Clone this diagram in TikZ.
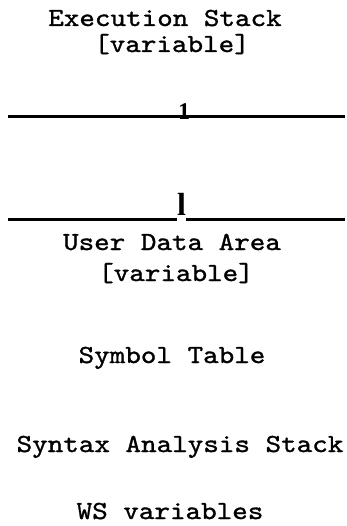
\documentclass[tikz,border=0pt]{standalone}
\usepackage{fontspec}
\usepackage{xcolor}
\usepackage{tikz}
\usetikzlibrary{positioning, calc}
\newfontfamily\memfont[FakeStretch=1.14, FakeBold=1.2]{lmmono10-regular.otf}
\newfontfamily\markfont{Liberation Serif}
\definecolor{mmInk}{RGB}{0, 0, 0}
\tikzset{
    base/.style={
        inner sep=0pt,
        text=mmInk
    },
    region/.style={
        base,
        font=\memfont\fontsize{26}{30}\selectfont,
        anchor=base
    },
    boundmark/.style={
        base,
        anchor=south
    },
    divider/.style={
        line width=3pt,
        draw=mmInk
    }
}

\begin{document}
\begin{tikzpicture}[x=1pt, y=-1pt]
    \useasboundingbox (0,0) rectangle (346,526);

    % Execution stack
    \node[region] (exec) at (165,26) {Execution Stack};
    \node[region] (execvar) at (172,52) {[variable]};

    % Upper boundary
    \coordinate (topL) at (8,117);
    \coordinate (topR) at (345,117);
    \draw[divider] (topL) -- (topR);
    \node[boundmark, font=\markfont\bfseries\fontsize{24}{26}\selectfont] (topmark) at (184,120) {1};

    % Lower boundary
    \coordinate (botL) at (8,220);
    \coordinate (botR) at (345,220);
    \node[boundmark, font=\markfont\bfseries\fontsize{32}{34}\selectfont] (botmark) at (181.5,216) {l};
    \draw[divider] (botL) -- (botL -| botmark.west);
    \draw[divider] (botR -| botmark.east) -- (botR);

    % User data area
    \node[region] (user) at (172,250) {User Data Area};
    \node[region] (uservar) at (176,281) {[variable]};

    % Tables and stacks
    \node[region] (symbols) at (172,363) {Symbol Table};
    \node[region] (syntax) at (180,452) {Syntax Analysis Stack};
    \node[region] (wsvars) at (170,519) {WS variables};

\end{tikzpicture}
\end{document}
